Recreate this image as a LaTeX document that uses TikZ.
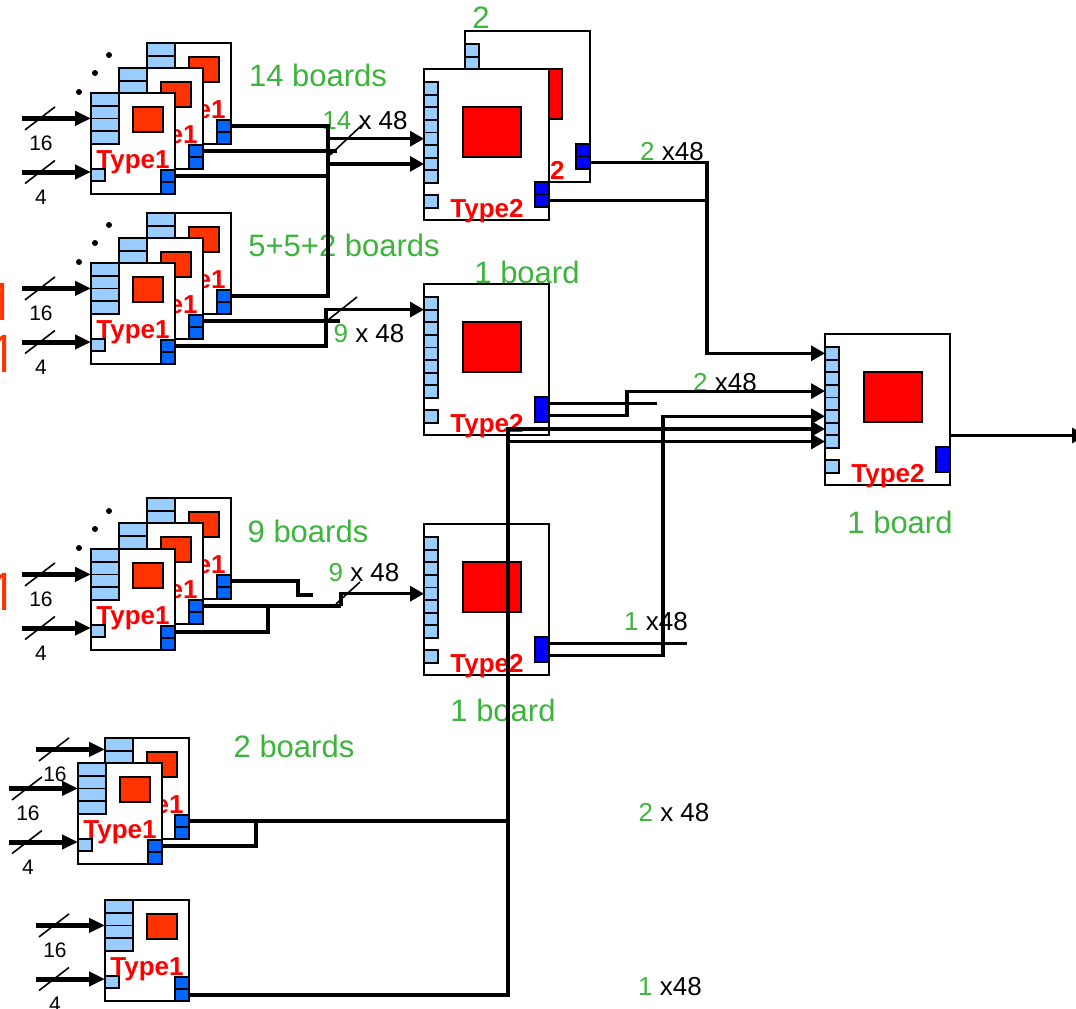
\documentclass[tikz,border=0pt]{standalone}
\usepackage{fontspec}
\setmainfont{Liberation Sans}
\newfontfamily\fragfont{Open Sans}
\usetikzlibrary{arrows.meta, positioning, calc}
\definecolor{cellblue}{RGB}{153,204,255}
\definecolor{outblue}{RGB}{0,102,255}
\definecolor{chipred}{RGB}{255,51,0}
\definecolor{grn}{RGB}{60,180,60}
\tikzset{
  board/.style={draw, fill=white, line width=1pt, inner sep=0pt, outer sep=0pt, anchor=north west},
  boardone/.style={board, minimum width=42pt, minimum height=50.5pt},
  boardtwo/.style={board, minimum width=62.5pt, minimum height=75.5pt},
  cell/.style={draw, line width=0.9pt, inner sep=0pt, outer sep=0pt, anchor=north west},
  stackone/.style={cell, fill=cellblue, minimum width=14pt, minimum height=25.4pt},
  smallin/.style={cell, fill=cellblue, minimum width=7pt, minimum height=6pt},
  chipone/.style={cell, fill=chipred, minimum width=15pt, minimum height=12.5pt},
  outone/.style={cell, fill=outblue, minimum width=7pt, minimum height=6pt},
  intwo/.style={cell, fill=cellblue, minimum width=7pt, minimum height=6.3pt},
  chiptwo/.style={cell, fill=red, minimum width=29pt, minimum height=25pt},
  outtwo/.style={cell, fill=blue, minimum width=7pt, minimum height=6.25pt},
  typelbl/.style={text=red, font=\fontsize{13}{13}\selectfont\bfseries, anchor=base, inner sep=0pt},
  cnt/.style={text=grn, font=\fontsize{15.5}{16}\selectfont, inner sep=0pt},
  mult/.style={font=\fontsize{13}{13}\selectfont, inner sep=0pt},
  buslbl/.style={font=\fontsize{10.5}{10.5}\selectfont, inner sep=0pt},
  frag/.style={text=chipred, font=\fragfont\fontsize{26}{26}\selectfont, anchor=base west, inner sep=0pt},
  wire/.style={line width=1.6pt},
  arr/.style={wire, -{Triangle[length=7pt,width=7.5pt]}},
  inarr/.style={line width=2.5pt, {Triangle[length=8pt,width=7pt]}-},
  slash/.style={line width=0.8pt},
  dot/.style={circle, fill, inner sep=0pt, minimum size=3pt}
}
% Type1 board: name, top-left x, top-left y (in px)
\newcommand{\typeone}[3]{%
  \node[boardone] (#1) at (#2,#3) {};
  \node[stackone] (#1in) at (#2,#3) {};
  \foreach \k in {1,2,3} \draw[line width=0.9pt] ([shift={(0,12.7*\k)}]#1in.north west) -- ++(28,0);
  \node[chipone] (#1c) at (#2+42,#3+14) {};
  \node[smallin] (#1s) at (#2,#3+76) {};
  \node[outone] (#1o) at (#2+70,#3+77) {};
  \node[outone] (#1p) at (#2+70,#3+89) {};
  \node[typelbl] (#1t) at (#2+42,#3+75) {Type1};
}
% Type2 board: name, top-left x, top-left y (in px)
\newcommand{\typetwo}[3]{%
  \node[boardtwo] (#1) at (#2,#3) {};
  \foreach \k in {1,...,8} \node[intwo] (#1i\k) at (#2,#3+0.4+12.6*\k) {};
  \node[intwo] (#1x) at (#2,#3+126) {};
  \node[chiptwo] (#1c) at (#2+39,#3+38) {};
  \node[outtwo] (#1o) at (#2+111,#3+113) {};
  \node[outtwo] (#1p) at (#2+111,#3+125.5) {};
  \node[typelbl] (#1t) at (#2+63,#3+148) {Type2};
}
% bus input: [y shift], anchor, width label
\newcommand{\busin}[3][0]{%
  \draw[inarr] ([shift={(0,#1)}]#2) -- ++(-69,0);
  \draw[slash] ([shift={(-66,#1+11.5)}]#2) -- ++(30,-23);
  \node[buslbl] at ([shift={(-50,#1+25)}]#2) {#3};
}
\begin{document}
\begin{tikzpicture}[x=0.5pt, y=-0.5pt]
\clip (0,0) rectangle (1076,1008);

% cut-off labels at the left edge
\node[frag] at (-14,320) {1};
\node[frag] at (-12,372) {1};
\node[frag] at (-12,610) {1};

% Type1 stacks
\typeone{b14a}{147}{43}
\typeone{b14b}{119}{68}
\typeone{b14c}{91}{93}
\typeone{b12a}{147}{213}
\typeone{b12b}{119}{238}
\typeone{b12c}{91}{263}
\typeone{b9a}{147}{498}
\typeone{b9b}{119}{523}
\typeone{b9c}{91}{549}
\typeone{b2a}{105}{738}
\typeone{b2b}{78}{763}
\typeone{b1}{105}{900}

% Type2 boards
\typetwo{tA}{465}{31}
\typetwo{tB}{424}{69}
\typetwo{tM}{424}{284}
\typetwo{tL}{424}{524}
\typetwo{tF}{825}{334}

% more boards behind
\foreach \f in {b14c,b12c,b9c}
  \foreach \dx/\dy in {-12/-1,4/-20,18/-38}
    \node[dot] at ([shift={(\dx,\dy)}]\f.north west) {};

% inputs
\foreach \b in {b14c,b12c,b9c,b2b,b1} {
  \busin{\b in.west}{16}
  \busin[-3]{\b s.west}{4}
}
\busin[-14]{b2ain.west}{16}

% labels
\node[cnt] at (318,75) {14 boards};
\node[cnt] at (344,245) {5+5+2 boards};
\node[cnt] at (308,531) {9 boards};
\node[cnt] at (294,746) {2 boards};
\node[cnt] at (527,272) {1 board};
\node[cnt] at (503,710) {1 board};
\node[cnt] at (900,522) {1 board};
\node[cnt] at (481,18) {2};
\node[mult] at (365,121) {\textcolor{grn}{14} x 48};
\node[mult] at (369,334) {\textcolor{grn}{9} x 48};
\node[mult] at (364,573) {\textcolor{grn}{9} x 48};
\node[mult] at (672,152) {\textcolor{grn}{2} x48};
\node[mult] at (725,383) {\textcolor{grn}{2} x48};
\node[mult] at (656,622) {\textcolor{grn}{1} x48};
\node[mult] at (674,813) {\textcolor{grn}{2} x 48};
\node[mult] at (670,987) {\textcolor{grn}{1} x48};

% 14 boards and 5 boards to upper Type2
\coordinate (k1) at (328,200);
\draw[wire] (b14ao.east) -| (k1) |- (b12ao.east);
\draw[wire] (b14bo.east) -- ++(134,0);
\draw[wire] (b14co.east) -| (k1);
\draw[arr] (k1 |- tBi5.west) -- (tBi5.west);
\draw[arr] (k1 |- tBi7.west) -- (tBi7.west);
\draw[slash] (330,155) -- (362,125);

% 5+2 boards to middle Type2
\coordinate (k2) at (326,330);
\draw[wire] (b12bo.east) -- ++(137,0);
\draw[arr] (b12co.east) -| (k2) |- (tMi1.south west);
\draw[slash] (328,320) -- (357,297);

% 9 boards to lower Type2
\draw[wire] (b9ao.east) -- ++(67,0) -- ++(0,14) -- ++(15,0);
\draw[wire] (b9bo.east) -- ++(138,0) coordinate (k3);
\draw[wire] (b9co.east) -- ++(93,0) |- (b9bo.east);
\draw[arr] (k3) |- (tLi5.west);
\draw[slash] (336,604) -- (360,582);

% Type2 boards to final Type2
\coordinate (j1) at (707,300);
\draw[arr] (tAp.east) -| (j1) |- (tFi1.west);
\draw[wire] (tBp.east) -| (j1);
\draw[wire] (tMo.east) -- ++(108,0);
\coordinate (j2) at (627,400);
\draw[arr] (tMp.east) -| (j2) |- (tFi4.west);
\draw[wire] (tLo.east) -- ++(138,0);
\coordinate (j3) at (663,500);
\draw[arr] (tLp.east) -| (j3) |- (tFi6.west);

% 2 boards and 1 board to final Type2
\coordinate (j4) at (508,700);
\draw[arr] (b1p.east) -| (j4) |- (tFi7.west);
\draw[arr] (j4) |- (tFi8.west);
\draw[wire] (b2ao.east) -| (j4);
\draw[wire] (b2bo.east) -- ++(94,0) |- (b2ao.east);

% output
\draw[arr] ([shift={(0,26)}]tF.east) -- ++(136,0);

\end{tikzpicture}
\end{document}
